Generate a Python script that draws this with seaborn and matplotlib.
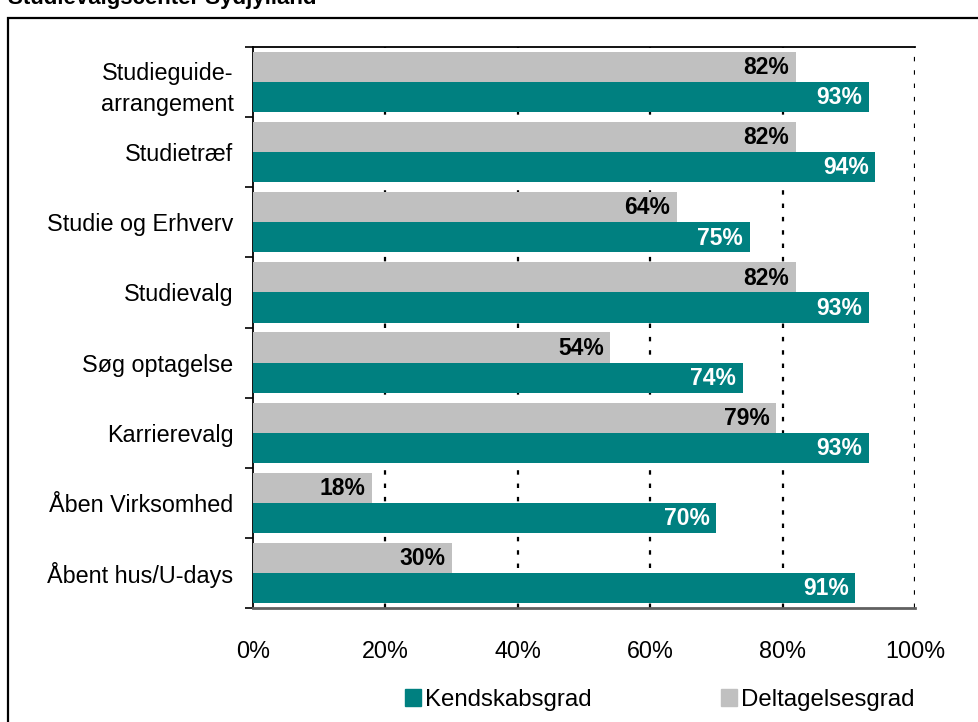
import pandas as pd
import seaborn as sns
import matplotlib.pyplot as plt
from matplotlib.patches import Rectangle, Patch
from matplotlib.ticker import FuncFormatter, FixedLocator

# data
kategorier = ["Studieguide-\narrangement", "Studietræf", "Studie og Erhverv", "Studievalg",
              "Søg optagelse", "Karrierevalg", "Åben Virksomhed", "Åbent hus/U-days"]
kendskabsgrad = [93, 94, 75, 93, 74, 93, 70, 91]
deltagelsesgrad = [82, 82, 64, 82, 54, 79, 18, 30]
serier = ["Deltagelsesgrad", "Kendskabsgrad"]
farver = {"Kendskabsgrad": "#008080", "Deltagelsesgrad": "#C0C0C0"}
titel = "Studievalgscenter Sydjylland"

df = pd.DataFrame({
    "Kategori": kategorier * 2,
    "Værdi": deltagelsesgrad + kendskabsgrad,
    "Serie": ["Deltagelsesgrad"] * len(kategorier) + ["Kendskabsgrad"] * len(kategorier),
})

sns.set_style("white")
plt.rcParams["font.family"] = ["Liberation Sans", "DejaVu Sans"]
plt.rcParams["text.color"] = "black"
plt.rcParams["xtick.color"] = "black"
plt.rcParams["ytick.color"] = "black"

fig = plt.figure(figsize=(9.79, 7.22), dpi=100)
ax = fig.add_axes([253 / 979, 1 - 608 / 722, 662 / 979, 561 / 722])

sns.barplot(data=df, y="Kategori", x="Værdi", hue="Serie", hue_order=serier,
            palette=farver, orient="h", width=0.86, gap=0, saturation=1,
            linewidth=0, legend=False, ax=ax, zorder=3)

# value labels inside the bar ends
for container, serie in zip(ax.containers, serier):
    col = "black" if serie == "Deltagelsesgrad" else "white"
    for bar in container:
        w = bar.get_width()
        y = bar.get_y() + bar.get_height() / 2
        ax.text(w - 1.0, y + 0.01, f"{w:.0f}%", ha="right", va="center",
                fontsize=16.5, fontweight="bold", color=col, zorder=4)

ax.set_xlim(0, 100)
ax.set_ylim(len(kategorier) - 0.5, -0.5)
ax.set_xticks([0, 20, 40, 60, 80, 100])
ax.xaxis.set_major_formatter(FuncFormatter(lambda v, p: f"{v:.0f}%"))
ax.tick_params(axis="x", length=5, width=1.2, direction="out", pad=18, labelsize=16.8)
ax.tick_params(axis="y", which="major", length=0, pad=14, labelsize=16.8)
ax.yaxis.set_minor_locator(FixedLocator([i - 0.5 for i in range(len(kategorier) + 1)]))
ax.tick_params(axis="y", which="minor", length=6, width=1.2, direction="out", left=True)
for lbl in ax.get_yticklabels():
    lbl.set_linespacing(1.45)
ax.set_xlabel("")
ax.set_ylabel("")

# dotted vertical gridlines
ax.grid(False)
for v in [20, 40, 60, 80, 100]:
    ax.axvline(v, color="black", linestyle=(0, (2, 4)), linewidth=1.6, zorder=1)

for side in ["left", "top"]:
    ax.spines[side].set_color("black")
    ax.spines[side].set_linewidth(1.3)
ax.spines["bottom"].set_color("#606060")
ax.spines["bottom"].set_linewidth(2)
ax.spines["right"].set_visible(False)

# legend: Kendskabsgrad first
handles = [Patch(color=farver["Kendskabsgrad"]), Patch(color=farver["Deltagelsesgrad"])]
fig.legend(handles, ["Kendskabsgrad", "Deltagelsesgrad"], loc="center",
           bbox_to_anchor=(0.674, 1 - 700 / 722), ncol=2, frameon=False, fontsize=17.3,
           handlelength=0.67, handleheight=0.67, handletextpad=0.15, columnspacing=5.4)

# outer frame and cut-off title
fig.add_artist(Rectangle((8 / 979, -0.1), 1.2, 1 - 18 / 722 + 0.1, transform=fig.transFigure,
                         fill=False, edgecolor="black", linewidth=1.6))
fig.text(8 / 979, 1 - 4 / 722, titel, fontsize=16, fontweight="bold", ha="left", va="baseline")

fig.savefig("out.png", dpi=100)
